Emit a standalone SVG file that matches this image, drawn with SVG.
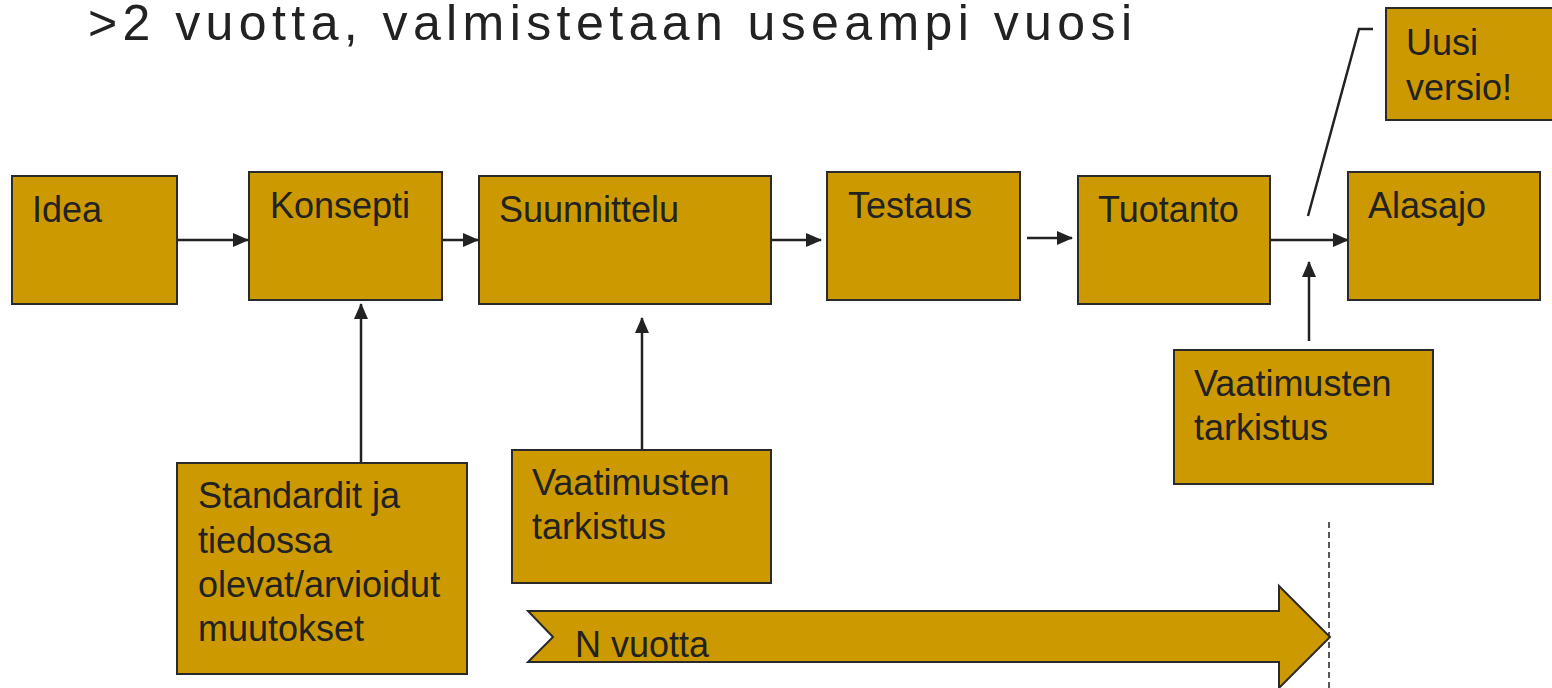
<svg xmlns="http://www.w3.org/2000/svg" width="1552" height="688" viewBox="0 0 1552 688">
<defs>
<marker id="ah" markerWidth="16" markerHeight="14" refX="15" refY="7" orient="auto" markerUnits="userSpaceOnUse">
<path d="M0,0 L16,7 L0,14 Z" fill="#222"/>
</marker>
<style>
.box{fill:#CC9900;stroke:#2a2a2a;stroke-width:2}
.t{font-family:"Liberation Sans",Arial,sans-serif;font-size:36px;fill:#222}
.c{stroke:#222;stroke-width:2.5;fill:none}
</style>
</defs>
<rect width="1552" height="688" fill="#fff"/>
<text x="88" y="40" font-family="Liberation Sans, Arial, sans-serif" font-size="50" fill="#222" textLength="1044" lengthAdjust="spacing">&gt;2 vuotta, valmistetaan useampi vuosi</text>
<g id="connectors">
<line class="c" x1="177" y1="240" x2="248" y2="240" marker-end="url(#ah)"/>
<line class="c" x1="442" y1="240" x2="478" y2="240" marker-end="url(#ah)"/>
<line class="c" x1="771" y1="240" x2="821" y2="240" marker-end="url(#ah)"/>
<line class="c" x1="1027" y1="238" x2="1072" y2="238" marker-end="url(#ah)"/>
<line class="c" x1="1270" y1="240" x2="1348" y2="240" marker-end="url(#ah)"/>
<line class="c" x1="361" y1="463" x2="361" y2="304" marker-end="url(#ah)"/>
<line class="c" x1="642" y1="450" x2="642" y2="318" marker-end="url(#ah)"/>
<line class="c" x1="1309" y1="341" x2="1309" y2="262" marker-end="url(#ah)"/>
<polyline class="c" points="1308,216 1359,29 1373,29" stroke-width="2"/>
<line x1="1329" y1="522" x2="1329" y2="688" stroke="#222" stroke-width="1.5" stroke-dasharray="6,4"/>
</g>
<g id="idea"><rect class="box" x="12" y="176" width="165" height="128"/><text class="t" x="32" y="222">Idea</text></g>
<g id="konsepti"><rect class="box" x="249" y="172" width="193" height="128"/><text class="t" x="270" y="218">Konsepti</text></g>
<g id="suunnittelu"><rect class="box" x="479" y="176" width="292" height="128"/><text class="t" x="499" y="222">Suunnittelu</text></g>
<g id="testaus"><rect class="box" x="827" y="172" width="193" height="128"/><text class="t" x="848" y="218">Testaus</text></g>
<g id="tuotanto"><rect class="box" x="1078" y="176" width="192" height="128"/><text class="t" x="1098" y="222">Tuotanto</text></g>
<g id="alasajo"><rect class="box" x="1348" y="172" width="192" height="128"/><text class="t" x="1368" y="218">Alasajo</text></g>
<g id="uusi"><rect class="box" x="1386" y="8" width="168" height="112"/><text class="t" x="1406" y="55">Uusi</text><text class="t" x="1406" y="100">versio!</text></g>
<g id="standardit"><rect class="box" x="177" y="463" width="290" height="211"/>
<text class="t" x="198" y="508">Standardit ja</text><text class="t" x="198" y="553">tiedossa</text><text class="t" x="198" y="597">olevat/arvioidut</text><text class="t" x="198" y="641">muutokset</text></g>
<g id="vaatimukset1"><rect class="box" x="512" y="450" width="259" height="133"/><text class="t" x="532" y="495">Vaatimusten</text><text class="t" x="532" y="539">tarkistus</text></g>
<g id="vaatimukset2"><rect class="box" x="1174" y="350" width="259" height="134"/><text class="t" x="1194" y="396">Vaatimusten</text><text class="t" x="1194" y="440">tarkistus</text></g>
<g id="nvuotta"><polygon class="box" points="528,611 1279,611 1279,586 1330,637 1279,688 1279,662 528,662 553,637"/><text class="t" x="575" y="657">N vuotta</text></g>
</svg>
